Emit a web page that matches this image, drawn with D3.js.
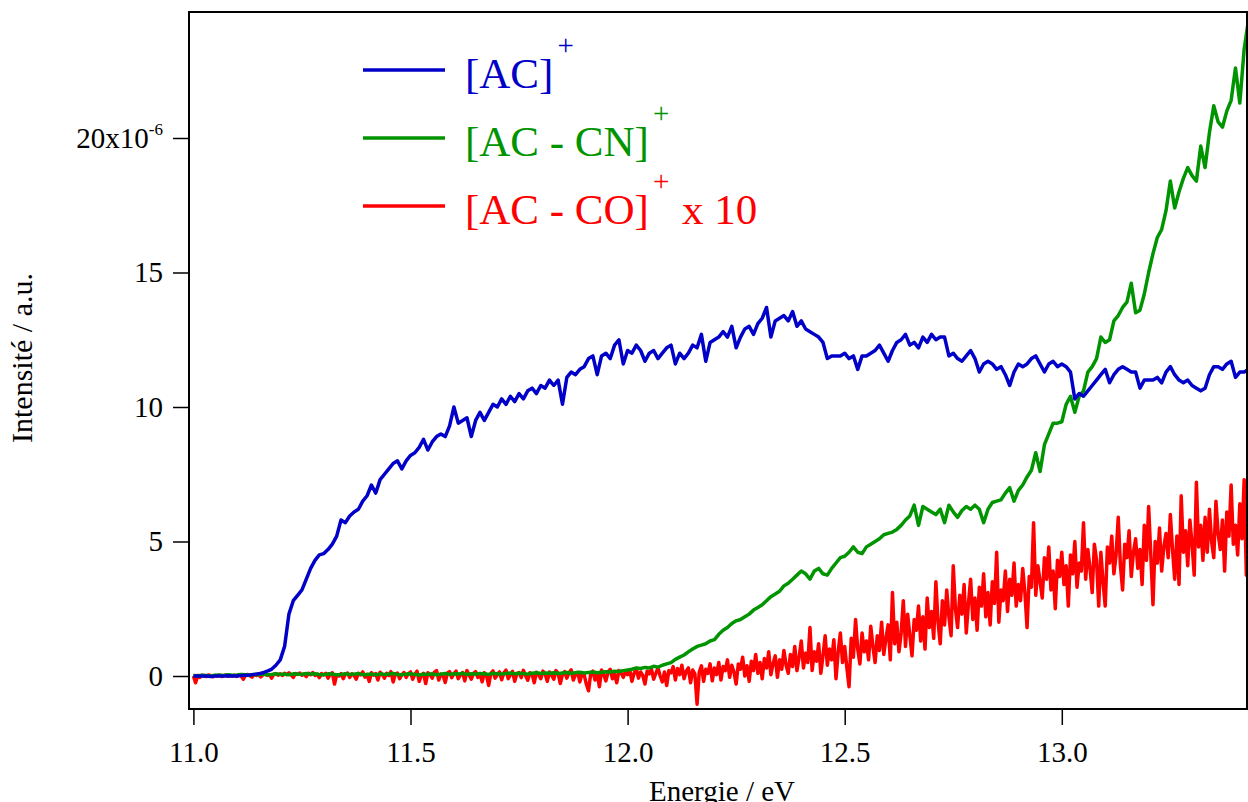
<!DOCTYPE html>
<html><head><meta charset="utf-8">
<script src="https://cdn.jsdelivr.net/npm/d3@7"></script>
<style>
body{margin:0;background:#fff;}
text{font-family:"Liberation Serif","Times New Roman",serif;}
</style></head>
<body>
<svg id="chart" width="1248" height="802"></svg>
<script>
// ---- data (intensity in units of 1e-6, energy in eV) ----
const energyStart = 11.0;
const blueStep = 0.01, greenStep = 0.01, redStep = 0.005;
const xTicks = [11.0, 11.5, 12.0, 12.5, 13.0];
const yTicks = [0, 5, 10, 15, 20];
const seriesNames = ["[AC]", "[AC - CN]", "[AC - CO]"];

const acValues = [
0.0,0.0,0.0,0.0,-0.02,0.0,0.0,0.0,0.01,0.0,0.0,0.02,0.03,0.04,0.06,0.08,0.12,0.18,0.25,0.4,
0.6,1.1,2.3,2.8,3.0,3.2,3.6,4.0,4.3,4.5,4.55,4.7,4.9,5.2,5.8,5.7,5.95,6.1,6.2,6.5,
6.7,7.1,6.8,7.3,7.5,7.7,7.9,8.0,7.7,8.0,8.2,8.3,8.5,8.8,8.4,8.7,8.9,9.0,8.9,9.3,
10.0,9.4,9.5,9.6,8.9,9.5,9.8,9.5,9.8,10.1,10.0,10.3,10.1,10.4,10.2,10.5,10.3,10.6,10.7,10.5,
10.8,10.7,11.0,10.8,11.0,10.1,11.1,11.3,11.2,11.4,11.5,11.8,11.9,11.2,11.9,12.0,11.8,12.3,12.5,11.6,
12.1,12.0,12.3,12.1,11.7,12.0,12.1,11.8,12.0,12.2,12.3,11.6,12.0,11.8,12.0,12.3,12.2,12.7,11.7,12.4,
12.5,12.6,12.8,12.6,13.0,12.2,12.6,12.9,13.0,12.7,13.1,13.3,13.7,12.6,13.2,13.3,13.4,13.2,13.55,13.0,
13.2,12.9,12.8,12.7,12.6,12.4,11.8,11.9,11.9,11.9,12.0,11.8,11.9,11.4,11.9,11.9,12.0,12.1,12.3,12.0,
11.7,12.1,12.4,12.5,12.7,12.3,12.4,12.2,12.6,12.4,12.7,12.5,12.6,12.6,11.9,12.0,11.8,11.7,11.9,12.1,
11.8,11.3,11.6,11.7,11.6,11.4,11.5,11.2,10.8,11.3,11.6,11.5,11.6,11.8,11.9,11.6,11.3,11.6,11.7,11.5,
11.6,11.5,11.3,10.3,10.5,10.4,10.6,10.8,11.0,11.2,11.4,10.9,11.2,11.4,11.5,11.4,11.3,11.3,10.7,11.0,
11.0,11.0,11.1,10.9,11.3,11.5,11.2,11.0,10.9,11.0,10.8,10.7,10.6,10.7,11.2,11.5,11.5,11.4,11.6,11.7,
11.1,11.3,11.3,11.4
];

const acCnValues = [
0.02,0.01,0.03,0.02,0.0,0.03,0.04,0.02,0.05,0.03,0.04,0.06,0.05,0.04,0.06,0.05,0.07,0.05,0.06,0.08,
0.06,0.07,0.05,0.08,0.07,0.06,0.09,0.07,0.08,0.06,0.05,0.08,0.07,0.05,0.06,0.08,0.06,0.07,0.09,0.05,
0.06,0.07,0.05,0.08,0.06,0.07,0.09,0.06,0.05,0.07,0.08,0.06,0.04,0.07,0.06,0.08,0.05,0.07,0.09,0.06,
0.08,0.07,0.10,0.06,0.08,0.07,0.09,0.08,0.06,0.10,0.08,0.07,0.09,0.11,0.08,0.10,0.09,0.07,0.10,0.12,
0.09,0.11,0.10,0.12,0.09,0.11,0.13,0.10,0.12,0.14,0.11,0.13,0.15,0.12,0.14,0.16,0.15,0.18,0.17,0.20,
0.22,0.25,0.3,0.28,0.32,0.3,0.36,0.33,0.4,0.45,0.5,0.62,0.7,0.78,0.9,1.0,1.1,1.15,1.2,1.3,
1.35,1.55,1.7,1.8,1.95,2.05,2.1,2.2,2.3,2.45,2.55,2.65,2.8,2.95,3.05,3.15,3.35,3.45,3.6,3.75,
3.9,3.8,3.6,3.9,4.0,3.8,3.75,4.0,4.2,4.4,4.45,4.6,4.8,4.6,4.55,4.8,4.9,5.0,5.1,5.25,
5.3,5.35,5.45,5.6,5.8,5.95,6.35,5.6,6.3,6.2,6.1,6.0,6.2,5.7,6.35,6.1,5.9,6.15,6.3,6.2,
6.35,6.2,5.7,6.2,6.45,6.5,6.55,6.8,7.0,6.5,6.9,7.1,7.4,7.65,8.3,7.6,8.6,9.0,9.4,9.4,
9.45,10.1,10.4,9.8,10.4,10.6,11.3,11.5,11.8,12.6,12.4,12.5,13.2,13.4,13.7,13.9,14.6,13.5,13.6,14.2,
15.0,15.7,16.3,16.6,17.3,18.4,17.4,18.0,18.5,18.9,18.6,18.4,19.7,18.9,20.2,21.2,20.6,20.4,21.0,21.4,
22.6,21.3,23.3,24.4
];

// [AC - CO]+ multiplied by 10
const acCoX10Values = [
0.0,-0.25,0.02,-0.05,0.03,0.0,-0.02,0.04,0.01,-0.03,0.02,0.0,0.03,-0.02,0.01,0.04,-0.01,0.02,0.0,0.03,
-0.02,0.05,0.0,-0.12,0.03,0.06,0.01,-0.04,0.05,0.02,0.07,-0.03,0.04,0.08,0.02,0.05,-0.08,0.06,0.09,0.03,
0.08,0.02,0.1,0.05,0.12,0.04,-0.05,0.09,0.06,0.11,0.03,0.08,-0.02,0.1,0.05,0.13,0.02,0.07,-0.06,0.09,
0.04,0.1,-0.08,0.06,0.12,-0.3,0.05,0.0,0.09,-0.1,0.07,0.11,-0.05,0.08,0.02,-0.12,0.1,0.04,0.15,-0.04,
0.06,-0.2,0.12,0.03,0.09,-0.15,0.14,0.05,-0.08,0.1,0.02,0.16,-0.22,0.07,0.11,-0.1,0.04,0.13,-0.05,0.08,
0.15,-0.12,0.06,0.18,-0.2,0.03,0.1,-0.28,0.12,0.05,-0.08,0.14,0.2,-0.15,0.07,0.02,-0.24,0.11,0.16,-0.06,
0.09,0.18,-0.1,0.05,0.13,-0.18,0.2,0.04,-0.12,0.1,0.16,-0.05,0.08,-0.22,0.12,0.02,-0.35,0.1,0.19,-0.08,
0.06,0.15,-0.14,0.11,0.22,-0.1,0.04,0.17,-0.2,0.09,0.13,-0.06,0.21,0.02,-0.16,0.12,0.07,-0.25,0.14,0.05,
-0.1,0.18,0.08,-0.2,0.15,0.03,-0.12,0.2,0.1,-0.28,0.06,0.16,-0.08,0.12,0.23,-0.15,0.05,0.14,-0.22,0.1,
0.04,-0.3,-0.55,0.08,0.18,-0.15,0.1,-0.4,0.22,0.05,-0.18,0.15,0.25,-0.1,0.08,-0.25,0.2,0.12,-0.05,0.16,
0.05,0.22,-0.2,0.1,0.28,-0.08,0.15,0.02,-0.3,0.18,0.08,0.25,-0.12,0.1,0.3,0.0,-0.22,0.15,-0.35,0.2,
0.12,0.35,-0.15,0.28,0.05,0.4,-0.1,0.18,0.3,-0.25,0.22,0.08,-1.05,0.15,0.38,-0.2,0.25,0.1,0.45,-0.18,
0.3,0.05,0.5,-0.15,0.35,0.2,0.6,-0.05,0.4,0.15,-0.3,0.45,0.25,0.7,0.0,0.38,-0.2,0.55,0.2,0.8,
0.1,0.5,-0.1,0.65,0.3,0.9,0.05,0.45,0.75,-0.05,0.6,0.25,0.95,0.4,0.1,0.8,0.35,1.1,0.2,0.7,
1.3,0.3,0.85,0.5,1.8,0.2,0.9,0.55,1.2,0.1,0.75,1.5,0.4,1.0,0.6,1.35,-0.1,0.9,1.6,0.5,
1.1,0.3,-0.4,1.4,0.7,2.1,1.0,0.45,1.6,0.9,1.3,0.6,1.85,1.1,0.5,1.5,0.95,2.0,0.8,1.4,
1.9,0.6,3.1,1.2,2.0,0.9,1.6,2.8,1.1,2.3,1.5,0.75,2.1,1.7,2.6,1.3,2.2,1.0,2.9,1.8,
2.4,1.4,3.5,2.0,1.2,2.8,1.9,3.2,2.2,1.5,4.1,2.5,1.8,3.0,2.3,3.4,1.6,2.7,3.6,2.1,
2.9,1.7,3.3,2.6,3.8,2.2,3.1,1.9,3.5,2.7,4.6,2.0,3.2,2.8,3.9,2.4,3.6,3.0,4.2,2.6,
3.4,2.8,4.0,3.1,1.8,3.7,3.3,5.7,3.0,4.1,3.5,2.9,4.4,3.6,4.8,3.2,3.9,2.5,4.3,3.7,
4.6,3.4,4.1,2.6,4.5,3.8,5.0,3.3,4.2,3.9,5.7,3.6,4.7,4.0,3.1,4.9,4.3,2.6,4.6,3.5,
2.6,4.8,4.2,5.2,3.8,4.5,5.9,4.1,3.2,4.9,4.4,5.4,3.7,4.6,5.1,4.0,4.7,3.4,5.6,4.3,
6.3,4.5,2.65,5.0,4.2,5.5,3.9,4.8,5.3,4.4,6.0,4.7,3.6,5.2,3.4,6.7,4.6,5.4,4.1,5.8,
4.9,3.75,7.2,4.8,5.6,4.3,5.9,4.6,6.2,5.0,4.4,6.5,5.3,4.7,5.8,3.9,6.1,5.2,7.1,4.9,
5.6,4.5,6.4,5.1,7.3,3.75,6.0
];

// ---- layout ----
const svg = d3.select("#chart");
const frame = {left: 189, top: 12, right: 1247, bottom: 709};
const x = d3.scaleLinear().domain([11.0, 13.0]).range([193.4, 1061.8]);
const y = d3.scaleLinear().domain([0, 20]).range([676, 138]);

svg.append("defs").append("clipPath").attr("id", "plotclip")
  .append("rect").attr("x", frame.left).attr("y", frame.top)
  .attr("width", frame.right - frame.left).attr("height", frame.bottom - frame.top);

const toPts = (vals, step) => vals.map((v, i) => [energyStart + i * step, v]);
const line = d3.line().x(d => x(d[0])).y(d => y(d[1]));

const colors = ["#0000c8", "#009400", "#ff0000"];
const series = [
  {vals: acCoX10Values, step: redStep, color: colors[2]},
  {vals: acCnValues, step: greenStep, color: colors[1]},
  {vals: acValues, step: blueStep, color: colors[0]}
];
const g = svg.append("g").attr("clip-path", "url(#plotclip)");
series.forEach(s => {
  g.append("path").datum(toPts(s.vals, s.step))
    .attr("d", line).attr("fill", "none")
    .attr("stroke", s.color).attr("stroke-width", 3.5)
    .attr("stroke-linejoin", "round");
});

// frame
svg.append("rect").attr("x", frame.left).attr("y", frame.top)
  .attr("width", frame.right - frame.left).attr("height", frame.bottom - frame.top)
  .attr("fill", "none").attr("stroke", "#000").attr("stroke-width", 2);

// axes
const xAxis = svg.append("g").attr("transform", `translate(0,${frame.bottom})`)
  .call(d3.axisBottom(x).tickValues(xTicks).tickFormat(d3.format(".1f")).tickSize(16).tickPadding(16));
xAxis.select(".domain").remove();
xAxis.selectAll("line").attr("stroke-width", 1.5);
xAxis.selectAll("text").attr("font-size", 29).attr("fill", "#000")
  .style("font-family", "'Liberation Serif', serif");

const yAxis = svg.append("g").attr("transform", `translate(${frame.left},0)`)
  .call(d3.axisLeft(y).tickValues(yTicks).tickSize(16).tickPadding(10).tickFormat(d => d === 20 ? "" : d));
yAxis.select(".domain").remove();
yAxis.selectAll("line").attr("stroke-width", 1.5);
yAxis.selectAll("text").attr("font-size", 29).attr("fill", "#000")
  .style("font-family", "'Liberation Serif', serif");
yAxis.selectAll(".tick").filter(d => d === 20).select("text")
  .call(t => {
    t.append("tspan").text("20x10");
    t.append("tspan").attr("font-size", 17).attr("dy", -13).text("-6");
  });

// axis titles
svg.append("text").attr("transform", "translate(32,358) rotate(-90)")
  .attr("text-anchor", "middle").attr("font-size", 30).text("Intensité / a.u.");
svg.append("text").attr("x", 722).attr("y", 801)
  .attr("text-anchor", "middle").attr("font-size", 29).text("Energie / eV");

// legend
const legendRows = [
  {name: seriesNames[0], suffix: "", color: colors[0], y: 70},
  {name: seriesNames[1], suffix: "", color: colors[1], y: 138},
  {name: seriesNames[2], suffix: " x 10", color: colors[2], y: 206}
];
const lg = svg.append("g");
legendRows.forEach(r => {
  lg.append("line").attr("x1", 363).attr("x2", 445).attr("y1", r.y).attr("y2", r.y)
    .attr("stroke", r.color).attr("stroke-width", 3.5);
  const t = lg.append("text").attr("x", 465).attr("y", r.y + 18)
    .attr("font-size", 43).attr("fill", r.color);
  t.append("tspan").text(r.name);
  t.append("tspan").attr("font-size", 29).attr("dy", -33).attr("dx", 4).text("+");
  if (r.suffix) t.append("tspan").attr("dy", 33).attr("dx", 2).text(r.suffix);
});
</script>
</body></html>
